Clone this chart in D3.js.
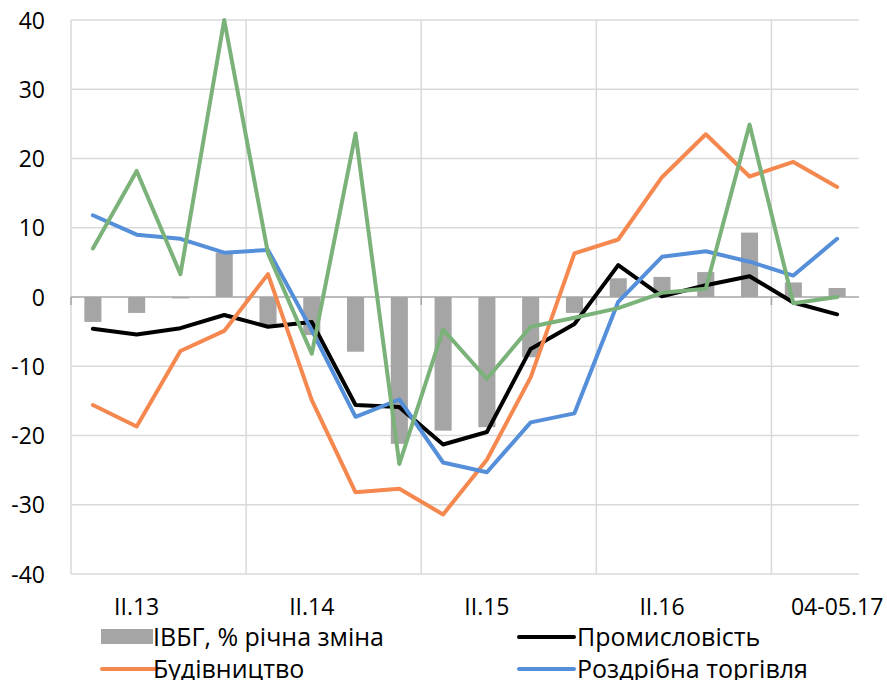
<!DOCTYPE html>
<html>
<head>
<meta charset="utf-8">
<script src="https://cdn.jsdelivr.net/npm/d3@7/dist/d3.min.js"></script>
<style>
  html, body { margin: 0; padding: 0; background: #fff; }
  svg text { font-family: "Open Sans", "Noto Sans", sans-serif; fill: #000; }
</style>
</head>
<body>
<svg id="chart" width="887" height="680"></svg>
<script>
// Quarterly periods, 2013 – 2017
const categories = [
  "I.13", "II.13", "III.13", "IV.13",
  "I.14", "II.14", "III.14", "IV.14",
  "I.15", "II.15", "III.15", "IV.15",
  "I.16", "II.16", "III.16", "IV.16",
  "I.17", "04-05.17"
];
const tickLabels = ["II.13", "II.14", "II.15", "II.16", "04-05.17"];
const yTicks = [-40, -30, -20, -10, 0, 10, 20, 30, 40];

// ІВБГ, % річна зміна (bars)
const ivbg = [-3.6, -2.3, -0.2, 6.4, -4.2, -5.5, -7.9, -21.2, -19.3, -18.8, -8.7, -2.3, 2.7, 2.9, 3.6, 9.3, 2.1, 1.3];
// Промисловість
const industry = [-4.6, -5.4, -4.5, -2.6, -4.3, -3.6, -15.6, -15.9, -21.3, -19.5, -7.5, -3.9, 4.6, 0.1, 1.7, 3.0, -0.8, -2.5];
// Будівництво
const construction = [-15.6, -18.7, -7.8, -4.9, 3.3, -14.9, -28.2, -27.7, -31.4, -23.5, -11.6, 6.3, 8.3, 17.3, 23.5, 17.4, 19.5, 15.9];
// Роздрібна торгівля
const retail = [11.8, 9.0, 8.4, 6.4, 6.8, -4.8, -17.3, -14.8, -23.9, -25.3, -18.1, -16.8, -0.7, 5.8, 6.6, 5.1, 3.1, 8.4];
// Fifth series (green line)
const fifthSeries = [7.0, 18.2, 3.3, 40.0, 6.3, -8.2, 23.6, -24.1, -4.7, -11.8, -4.3, -3.0, -1.6, 0.6, 1.2, 24.9, -0.9, 0.0];

const legendLabels = ["ІВБГ, % річна зміна", "Промисловість", "Будівництво", "Роздрібна торгівля"];

const svg = d3.select("#chart");
const plot = { left: 71, right: 859, top: 20, bottom: 574 };

const x = d3.scaleBand().domain(categories).range([plot.left, plot.right]).padding(0);
const y = d3.scaleLinear().domain([-40, 40]).range([plot.bottom, plot.top]);
const xc = d => x(d) + x.bandwidth() / 2;

const gridColor = "#d9d9d9";

// horizontal gridlines
svg.append("g").selectAll("line").data(yTicks.filter(v => v !== 0)).join("line")
  .attr("x1", plot.left).attr("x2", plot.right)
  .attr("y1", d => y(d)).attr("y2", d => y(d))
  .attr("stroke", gridColor).attr("stroke-width", 1.5);

// vertical gridlines every four quarters
const yearStarts = categories.filter((c, i) => i % 4 === 0);
svg.append("g").selectAll("line").data(yearStarts).join("line")
  .attr("x1", d => x(d)).attr("x2", d => x(d))
  .attr("y1", plot.top).attr("y2", plot.bottom)
  .attr("stroke", gridColor).attr("stroke-width", 1.5);

// bars
const barW = x.bandwidth() * 0.39;
svg.append("g").selectAll("rect").data(ivbg).join("rect")
  .attr("x", (d, i) => xc(categories[i]) - barW / 2)
  .attr("width", barW)
  .attr("y", d => y(Math.max(0, d)))
  .attr("height", d => Math.abs(y(d) - y(0)))
  .attr("fill", "#a5a5a5");

// zero axis with tick marks
svg.append("line")
  .attr("x1", plot.left).attr("x2", plot.right)
  .attr("y1", y(0)).attr("y2", y(0))
  .attr("stroke", "#a6a6a6").attr("stroke-width", 1.5);
svg.append("g").selectAll("line").data(yearStarts).join("line")
  .attr("x1", d => x(d)).attr("x2", d => x(d))
  .attr("y1", y(0)).attr("y2", y(0) + 8)
  .attr("stroke", "#a6a6a6").attr("stroke-width", 1.5);

// lines
const series = [
  { values: industry, color: "#000000" },
  { values: construction, color: "#f5884f" },
  { values: retail, color: "#558fd9" },
  { values: fifthSeries, color: "#7bb27a" }
];
const line = d3.line().x((d, i) => xc(categories[i])).y(d => y(d));
svg.append("g").selectAll("path").data(series).join("path")
  .attr("d", s => line(s.values))
  .attr("fill", "none")
  .attr("stroke", s => s.color)
  .attr("stroke-width", 4)
  .attr("stroke-linejoin", "round")
  .attr("stroke-linecap", "round");

// y axis labels (plain hyphen for negatives)
const yAxis = d3.axisLeft(y).tickValues(yTicks).tickFormat(d => String(d)).tickSize(0).tickPadding(0);
const gy = svg.append("g").attr("transform", "translate(45,0)").call(yAxis);
gy.select(".domain").remove();
gy.selectAll("text").attr("font-size", 23).attr("font-family", null).attr("dy", "0.35em");

// category labels
const xAxis = d3.axisBottom(x).tickValues(tickLabels).tickSize(0).tickPadding(0);
const gx = svg.append("g").attr("transform", "translate(0,599)").call(xAxis);
gx.select(".domain").remove();
gx.selectAll("text").attr("font-size", 23).attr("font-family", null).attr("dy", "0.71em");

// legend: two columns, two rows
const legend = [
  { label: legendLabels[0], type: "bar", color: "#a5a5a5", col: 0, row: 0 },
  { label: legendLabels[1], type: "line", color: "#000000", col: 1, row: 0 },
  { label: legendLabels[2], type: "line", color: "#f5884f", col: 0, row: 1 },
  { label: legendLabels[3], type: "line", color: "#558fd9", col: 1, row: 1 }
];
const colX = [101, 518];
const rowY = [637, 669];
const lg = svg.append("g").selectAll("g").data(legend).join("g")
  .attr("transform", d => `translate(${colX[d.col]},${rowY[d.row]})`);
lg.filter(d => d.type === "bar").append("rect")
  .attr("x", 0).attr("y", -8).attr("width", 52).attr("height", 15).attr("fill", d => d.color);
lg.filter(d => d.type === "line").append("line")
  .attr("x1", 1).attr("x2", 56).attr("y1", 0).attr("y2", 0)
  .attr("stroke", d => d.color).attr("stroke-width", 4).attr("stroke-linecap", "round");
lg.append("text")
  .attr("x", d => d.col === 0 ? 52 : 59).attr("y", 0).attr("dy", "0.35em")
  .attr("font-size", 25)
  .text(d => d.label);
</script>
</body>
</html>
